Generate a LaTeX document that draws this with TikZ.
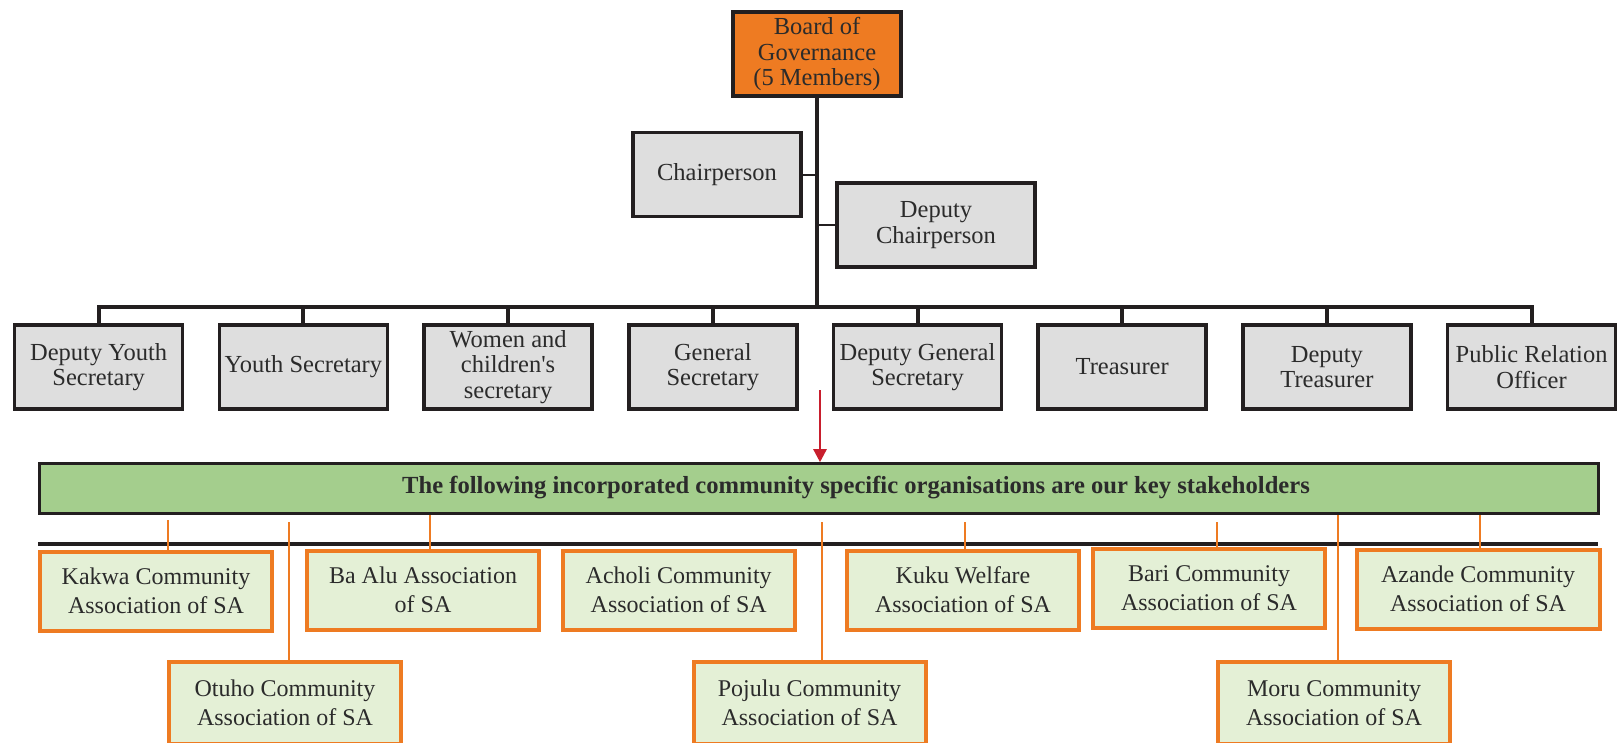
\documentclass[tikz,border=0pt]{standalone}
\usepackage{fontspec}
\setmainfont{Liberation Serif}
\usetikzlibrary{arrows.meta}
\definecolor{orng}{HTML}{EE7B22}
\definecolor{dark}{HTML}{231F20}
\definecolor{greyfill}{HTML}{DEDEDE}
\definecolor{barfill}{HTML}{A4CE8D}
\definecolor{orgfill}{HTML}{E4F0D6}
\definecolor{txt}{HTML}{2B2B2B}
\definecolor{arrowred}{HTML}{C81E2D}
\tikzset{
  greybox/.style={draw=dark, line width=3.5pt, fill=greyfill, minimum width=168pt, minimum height=84pt, inner sep=0pt, align=center, text=txt, font=\fontsize{24.5}{25.5}\selectfont},
  boardbox/.style={greybox, fill=orng},
  blackline/.style={draw=dark, line width=4pt},
  thinblack/.style={draw=dark, line width=2pt},
  greenbar/.style={draw=dark, line width=3pt, fill=barfill, minimum width=1559pt, minimum height=50pt, inner sep=0pt},
  bartext/.style={inner sep=0pt, text=txt, font=\bfseries\fontsize{24.6}{27}\selectfont},
  orgbox/.style={draw=orng, line width=4pt, fill=orgfill, minimum width=232pt, minimum height=79pt, inner sep=0pt, align=center, text=txt, font=\fontsize{24}{29}\selectfont},
  orline/.style={draw=orng, line width=2pt},
  redarrow/.style={draw=arrowred, line width=2.5pt, -{Triangle[length=13pt,width=13pt]}}
}
\begin{document}
\begin{tikzpicture}[x=1pt,y=-1pt]
\clip (0,0) rectangle (1621,742);
\fill[white] (0,0) rectangle (1621,742);

% top
\node[boardbox] (board) at (817,54) {Board of\\Governance\\(5 Members)};
\node[greybox] (chair) at (717,174.5) {Chairperson};
\node[greybox, minimum width=198pt] (dchair) at (936,225) {Deputy\\Chairperson};

% row of officers
\node[greybox] (r1) at (98.7,367) {Deputy Youth\\Secretary};
\node[greybox] (r2) at (303.4,367) {Youth Secretary};
\node[greybox] (r3) at (508.1,367) {Women and\\children\textquotesingle s\\secretary};
\node[greybox] (r4) at (712.8,367) {General\\Secretary};
\node[greybox] (r5) at (917.5,367) {Deputy General\\Secretary};
\node[greybox] (r6) at (1122.2,367) {Treasurer};
\node[greybox] (r7) at (1326.9,367) {Deputy\\Treasurer};
\node[greybox] (r8) at (1531.6,367) {Public Relation\\Officer};

\coordinate (bus) at (0,307);
\draw[blackline] (board.south) -- (board.south |- bus);
\draw[blackline, line join=miter] (r1.north) |- (r8.north |- bus) -- (r8.north);
\foreach \n in {r2,r3,r4,r5,r6,r7}{\draw[blackline] (\n.north) -- (\n.north |- bus);}
\draw[thinblack] (chair.east) -- (chair.east -| board.south);
\draw[thinblack] (dchair.west) -- (dchair.west -| board.south);

% green bar
\node[greenbar] (bar) at (819,488.7) {};
\node[bartext] (bartext) at (856,487.5) {The following incorporated community specific organisations are our key stakeholders};
\coordinate (arrowstart) at (820,390);
\draw[redarrow] (arrowstart) -- (arrowstart |- bar.north);

% black line under bar
\coordinate (blL) at (38,544);
\coordinate (blR) at (1598,544);
\draw[blackline] (blL) -- (blR);

% organisations
\node[orgbox] (kakwa) at (156,591) {Kakwa Community\\Association of SA};
\node[orgbox] (baalu) at (423,590) {Ba Alu Association\\of SA};
\node[orgbox] (acholi) at (678.7,590) {Acholi Community\\Association of SA};
\node[orgbox] (kuku) at (963,590) {Kuku Welfare\\Association of SA};
\node[orgbox] (bari) at (1209,588) {Bari Community\\Association of SA};
\node[orgbox, minimum width=243pt] (azande) at (1478,589) {Azande Community\\Association of SA};
\node[orgbox, minimum height=82pt] (otuho) at (285,703) {Otuho Community\\Association of SA};
\node[orgbox, minimum height=82pt] (pojulu) at (809.5,703) {Pojulu Community\\Association of SA};
\node[orgbox, minimum height=82pt] (moru) at (1334,703) {Moru Community\\Association of SA};

\draw[orline, shorten >=5pt] ([xshift=12pt]kakwa.north) -- ([xshift=12pt]kakwa.north |- bar.south);
\draw[orline] ([xshift=7pt]baalu.north) -- ([xshift=7pt]baalu.north |- bar.south);
\draw[orline, shorten >=7pt] ([xshift=2pt]kuku.north) -- ([xshift=2pt]kuku.north |- bar.south);
\draw[orline, shorten >=7pt] ([xshift=7.7pt]bari.north) -- ([xshift=7.7pt]bari.north |- bar.south);
\draw[orline] ([xshift=2pt]azande.north) -- ([xshift=2pt]azande.north |- bar.south);
\draw[orline, shorten >=7pt] ([xshift=4.3pt]otuho.north) -- ([xshift=4.3pt]otuho.north |- bar.south);
\draw[orline, shorten >=7pt] ([xshift=12.2pt]pojulu.north) -- ([xshift=12.2pt]pojulu.north |- bar.south);
\draw[orline] ([xshift=4pt]moru.north) -- ([xshift=4pt]moru.north |- bar.south);
\end{tikzpicture}
\end{document}
